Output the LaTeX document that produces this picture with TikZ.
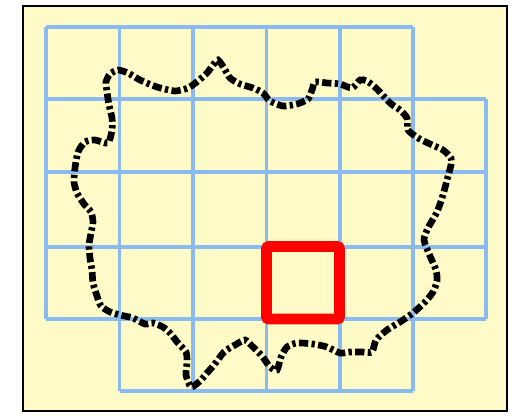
\documentclass[tikz,border=0pt]{standalone}
\usepackage{tikz}

\definecolor{paper}{RGB}{255,251,200}
\definecolor{gridblue}{RGB}{138,186,240}
\definecolor{markred}{RGB}{255,0,0}

\tikzset{
  gridline/.style={color=gridblue, line width=2.8pt},
  outline/.style={color=black, line width=5pt, dash pattern=on 7pt off 2.5pt on 2.5pt off 2.5pt},
  cellmark/.style={color=markred, line width=8.2pt, rounded corners=2pt}
}

\begin{document}
\begin{tikzpicture}[x=0.75pt,y=0.75pt,yscale=-1,xscale=1]
\useasboundingbox (0,0) rectangle (525,417);

%Shape: Rectangle [frame]
\draw [fill=paper, line width=2.2pt] (23,6) rectangle (507,411);

%Shape: Grid [vertical lines]
\draw [gridline] (46,27) -- (46,319);
\draw [gridline] (119.5,27) -- (119.5,391);
\draw [gridline] (193,27) -- (193,391);
\draw [gridline] (266.5,27) -- (266.5,391);
\draw [gridline] (340,27) -- (340,391);
\draw [gridline] (413,27) -- (413,391);
\draw [gridline] (486,99) -- (486,319);
%Shape: Grid [horizontal lines]
\draw [gridline] (46,27) -- (413,27);
\draw [gridline] (46,99) -- (486,99);
\draw [gridline] (46,172) -- (486,172);
\draw [gridline] (46,247) -- (486,247);
\draw [gridline] (46,319) -- (486,319);
\draw [gridline] (119.5,391) -- (413,391);

%Curve Lines [outline]
\draw [outline] plot [smooth cycle, tension=0.4] coordinates {
  (75,168) (78,152) (85,142) (95,140) (108,143) (112,130) (112,118)
  (109,105) (107,92) (106,82) (110,74) (118,70) (128,73) (140,80)
  (157,87) (175,91) (188,88) (198,81) (207,73) (213,65) (218,60)
  (224,68) (230,78) (240,84) (253,88) (263,93) (270,101) (283,106)
  (297,104) (308,99) (312,90) (315,82) (327,83) (340,84) (352,88)
  (360,80) (367,81) (377,89) (390,103) (400,110) (407,118) (408,130)
  (418,138) (430,144) (443,150) (451,158) (451,165) (447,180) (443,195)
  (437,212) (428,228) (424,240) (430,256) (436,270) (437,281) (433,292)
  (425,302) (413,313) (400,322) (387,330) (376,340) (372,352) (362,352)
  (350,352) (340,353) (327,347) (313,344) (297,343) (287,347) (281,357)
  (277,370) (270,367) (262,356) (252,346) (245,340) (235,345) (224,352)
  (214,365) (207,373) (200,381) (191,387) (186,375) (187,362) (186,352)
  (178,343) (170,333) (163,327) (153,323) (145,324) (133,318) (120,315)
  (110,312) (101,306) (97,296) (93,283) (92,270) (90,258) (89,245)
  (91,233) (93,222) (91,212) (84,204) (77,193) (74,182)
};

%Shape: Rectangle [marked cell]
\draw [cellmark] (266.5,246.5) rectangle (339.5,319);

\end{tikzpicture}
\end{document}
